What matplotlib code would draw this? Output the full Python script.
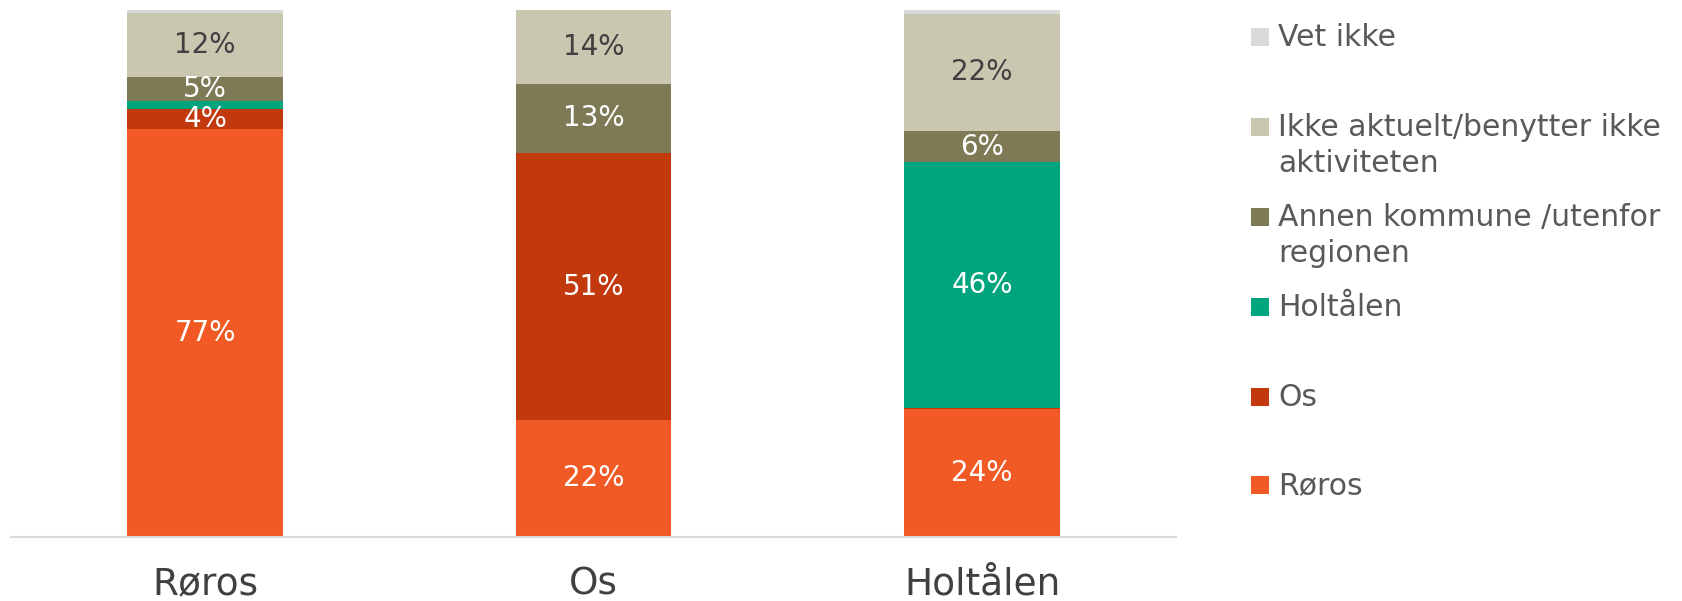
import numpy as np
import matplotlib.pyplot as plt
from matplotlib.patches import Rectangle

plt.rcParams.update({'font.family': 'DejaVu Sans'})

# data
kommuner = ['Røros', 'Os', 'Holtålen']
serier = ['Røros', 'Os', 'Holtålen', 'Annen kommune /utenfor\nregionen',
          'Ikke aktuelt/benytter ikke\naktiviteten', 'Vet ikke']
v_roros = [77.4, 3.8, 1.5, 4.6, 12.1, 0.6]
v_os = [22.2, 50.6, 0.0, 13.2, 14.0, 0.0]
v_holtalen = [24.2, 0.3, 46.6, 5.9, 22.3, 0.7]
etiketter = [['77%', '4%', '', '5%', '12%', ''],
             ['22%', '51%', '', '13%', '14%', ''],
             ['24%', '', '46%', '6%', '22%', '']]

farger = ['#F15A24', '#C1390D', '#00A47D', '#7E7A56', '#C9C7B0', '#D9D9D9']
tekstfarger = ['white', 'white', 'white', 'white', '#404040', '#404040']

verdier = np.array([v_roros, v_os, v_holtalen])  # kommune x serie

fig = plt.figure(figsize=(16.83, 6.01), dpi=100)
ax = fig.add_axes([0.0065, 0.1065, 0.6925, 0.877])

x = np.arange(len(kommuner))
bunn = np.zeros(len(kommuner))
for j in range(len(serier)):
    ax.bar(x, verdier[:, j], 0.4, bottom=bunn, color=farger[j], linewidth=0)
    for i in range(len(kommuner)):
        if etiketter[i][j]:
            ax.text(x[i], bunn[i] + verdier[i, j] / 2, etiketter[i][j],
                    ha='center', va='center', fontsize=20,
                    color=tekstfarger[j])
    bunn += verdier[:, j]

ax.set_xlim(-0.5, 2.5)
ax.set_ylim(0, 100)
ax.set_yticks([])
ax.set_xticks(x)
ax.set_xticklabels(kommuner, fontsize=27, color='#404040')
ax.tick_params(axis='x', length=0, pad=21)
for s in ['top', 'left', 'right']:
    ax.spines[s].set_visible(False)
ax.spines['bottom'].set_color('#D9D9D9')
ax.spines['bottom'].set_linewidth(1.5)

# legende, tegnet manuelt (rekkefolge ovenfra)
W, H = 1683.0, 601.0
leg_y = [37, 127, 217, 307, 397, 485]  # px fra toppen, forste linje
for k, j in enumerate(range(len(serier) - 1, -1, -1)):
    yc = leg_y[k]
    fig.add_artist(Rectangle((1251 / W, 1 - (yc + 9) / H), 18 / W, 18 / H,
                             transform=fig.transFigure, color=farger[j],
                             linewidth=0))
    fig.text(1278 / W, 1 - (yc - 14) / H, serier[j], ha='left', va='top',
             fontsize=21.5, color='#595959', linespacing=1.3)

plt.savefig('out.png', dpi=100)
